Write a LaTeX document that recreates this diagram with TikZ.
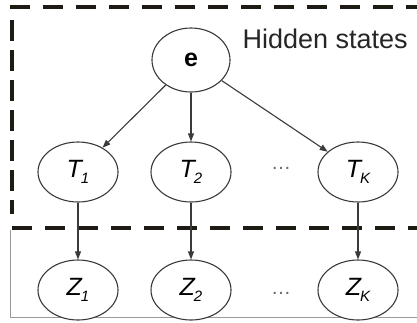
\documentclass[tikz,border=0pt]{standalone}
\usepackage{fontspec}
\setmainfont{Liberation Sans}
\usetikzlibrary{shapes.geometric,arrows.meta}
\definecolor{dashc}{HTML}{1E1A14}
\definecolor{edgec}{HTML}{3A3A3A}
\newcommand{\vlab}[2]{{\fontsize{25}{25}\selectfont\itshape #1}\kern-1pt{\raisebox{-6pt}{\fontsize{15}{15}\selectfont\itshape #2}}}
\tikzset{
  var/.style={draw=edgec, line width=1.1pt, ellipse, minimum width=80pt, minimum height=60pt, inner sep=0pt, fill=white},
  arr/.style={draw=edgec, line width=1.1pt, -{Triangle[length=8pt,width=6pt]}},
  bigdash/.style={draw=dashc, line width=3.8pt, dash pattern=on 20pt off 13pt},
  vdash/.style={draw=dashc, line width=3.8pt, dash pattern=on 21pt off 9pt},
  thinframe/.style={draw=black!40, line width=0.8pt},
  dots/.style={text=black!60, font=\fontsize{20}{20}\selectfont}
}
\begin{document}
\begin{tikzpicture}[x=1pt,y=-1pt]
\useasboundingbox (0,0) rectangle (417,322);
% frames
\coordinate (tl) at (10,7);
\coordinate (tr) at (417,7);
\coordinate (vl1) at (12,20);
\coordinate (vl2) at (12,214);
\coordinate (ml) at (12,228);
\coordinate (mr) at (417,228);
\coordinate (bl) at (10,317);
\coordinate (br) at (417,317);
\coordinate (gl) at (10,230);
\draw[thinframe] (gl) -- (bl) -- (br);
\draw[bigdash] (tl) -- (tr);
\draw[vdash] (vl1) -- (vl2);
\draw[bigdash] (ml) -- (mr);
% nodes
\node[var, minimum width=78pt, minimum height=64pt] (e) at (191,60) {\fontsize{25}{25}\selectfont\bfseries e};
\node[var] (t1) at (78,172) {\vlab{T}{1}};
\node[var] (t2) at (191,172) {\vlab{T}{2}};
\node[var] (tk) at (358,172) {\vlab{T}{K}};
\node[var] (z1) at (78,290) {\vlab{Z}{1}};
\node[var] (z2) at (191,290) {\vlab{Z}{2}};
\node[var] (zk) at (358,290) {\vlab{Z}{K}};
\node[dots] (d1) at (281,168) {\ldots};
\node[dots] (d2) at (281,293) {\ldots};
\node[anchor=base west, font=\fontsize{27}{27}\selectfont, text=black!85] (hs) at (239,48) {Hidden states};
% edges
\draw[arr] (e) -- (t1);
\draw[arr] (e) -- (t2);
\draw[arr] (e) -- (tk);
\draw[arr] (t1) -- (z1);
\draw[arr] (t2) -- (z2);
\draw[arr] (tk) -- (zk);
\end{tikzpicture}
\end{document}
